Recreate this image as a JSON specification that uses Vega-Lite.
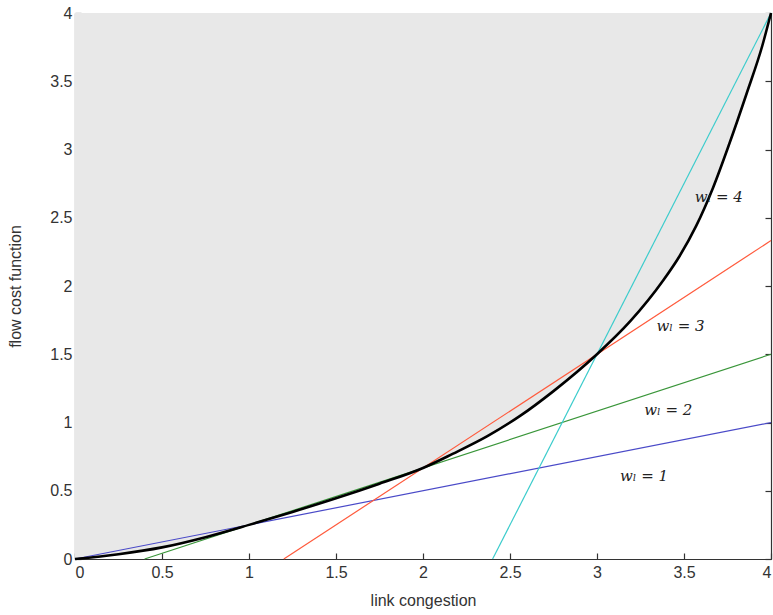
{
  "$schema": "https://vega.github.io/schema/vega-lite/v6.json",
  "autosize": {"type": "none"},
  "padding": {"left": 75, "top": 13, "right": 3, "bottom": 56},
  "width": 696,
  "height": 546,
  "background": "white",
  "config": {
    "view": {"stroke": null},
    "axis": {
      "grid": false,
      "domainColor": "#333333",
      "tickColor": "#333333",
      "domainWidth": 1.2,
      "tickWidth": 1.2,
      "labelFont": "Liberation Sans",
      "labelFontSize": 16,
      "labelColor": "#333333",
      "titleFont": "Liberation Sans",
      "titleFontSize": 16,
      "titleFontWeight": "normal",
      "titleColor": "#333333"
    }
  },
  "datasets": {
    "curve": [
      {"x": 0, "y": 0}, {"x": 0.25, "y": 0.035}, {"x": 0.5, "y": 0.085}, {"x": 0.75, "y": 0.16},
      {"x": 1, "y": 0.25}, {"x": 1.25, "y": 0.345}, {"x": 1.5, "y": 0.445}, {"x": 1.75, "y": 0.552},
      {"x": 2, "y": 0.667}, {"x": 2.17, "y": 0.77}, {"x": 2.37, "y": 0.9}, {"x": 2.56, "y": 1.05},
      {"x": 2.75, "y": 1.23}, {"x": 3, "y": 1.5}, {"x": 3.19, "y": 1.74}, {"x": 3.38, "y": 2.04},
      {"x": 3.475, "y": 2.22}, {"x": 3.57, "y": 2.44}, {"x": 3.667, "y": 2.72}, {"x": 3.76, "y": 3.04},
      {"x": 3.86, "y": 3.41}, {"x": 3.95, "y": 3.76}, {"x": 4, "y": 4}
    ],
    "lines": [
      {"w": "1", "x": 0, "y": 0}, {"w": "1", "x": 4, "y": 1},
      {"w": "2", "x": 0.4, "y": 0}, {"w": "2", "x": 4, "y": 1.5},
      {"w": "3", "x": 1.2, "y": 0}, {"w": "3", "x": 4, "y": 2.333},
      {"w": "4", "x": 2.4, "y": 0}, {"w": "4", "x": 4, "y": 4}
    ],
    "labels": [
      {"text": "wₗ = 4", "x": 3.7, "y": 2.65},
      {"text": "wₗ = 3", "x": 3.48, "y": 1.71},
      {"text": "wₗ = 2", "x": 3.41, "y": 1.09},
      {"text": "wₗ = 1", "x": 3.27, "y": 0.61}
    ]
  },
  "resolve": {"axis": {"y": "independent"}},
  "layer": [
    {
      "data": {"name": "curve"},
      "mark": {"type": "area", "color": "#e8e8e8", "opacity": 1, "interpolate": "monotone"},
      "encoding": {
        "x": {"field": "x", "type": "quantitative", "scale": {"domain": [0, 4], "nice": false},
              "axis": {"title": "link congestion", "values": [0, 0.5, 1, 1.5, 2, 2.5, 3, 3.5, 4], "format": "~g",
                       "tickSize": -6, "labelPadding": 11, "titlePadding": 12}},
        "y": {"field": "y", "type": "quantitative", "scale": {"domain": [0, 4], "nice": false},
              "axis": {"title": "flow cost function", "values": [0, 0.5, 1, 1.5, 2, 2.5, 3, 3.5, 4], "format": "~g",
                       "tickSize": -6, "labelPadding": 9, "titlePadding": 26}},
        "y2": {"datum": 4}
      }
    },
    {
      "data": {"name": "lines"},
      "mark": {"type": "line", "strokeWidth": 1.2},
      "encoding": {
        "x": {"field": "x", "type": "quantitative"},
        "y": {"field": "y", "type": "quantitative", "axis": null},
        "color": {"field": "w", "type": "nominal", "legend": null,
                  "scale": {"domain": ["1", "2", "3", "4"], "range": ["#4a4ac8", "#3a963a", "#ff5a3c", "#3ccccc"]}}
      }
    },
    {
      "data": {"name": "curve"},
      "mark": {"type": "line", "color": "#000000", "strokeWidth": 2.6, "interpolate": "monotone"},
      "encoding": {
        "x": {"field": "x", "type": "quantitative"},
        "y": {"field": "y", "type": "quantitative",
              "axis": {"orient": "right", "title": null, "labels": false, "values": [0, 0.5, 1, 1.5, 2, 2.5, 3, 3.5, 4], "tickSize": -6}}
      }
    },
    {
      "data": {"name": "labels"},
      "mark": {"type": "text", "font": "DejaVu Serif", "fontStyle": "italic", "fontSize": 15, "color": "#222222"},
      "encoding": {
        "x": {"field": "x", "type": "quantitative"},
        "y": {"field": "y", "type": "quantitative", "axis": null},
        "text": {"field": "text"}
      }
    }
  ]
}
